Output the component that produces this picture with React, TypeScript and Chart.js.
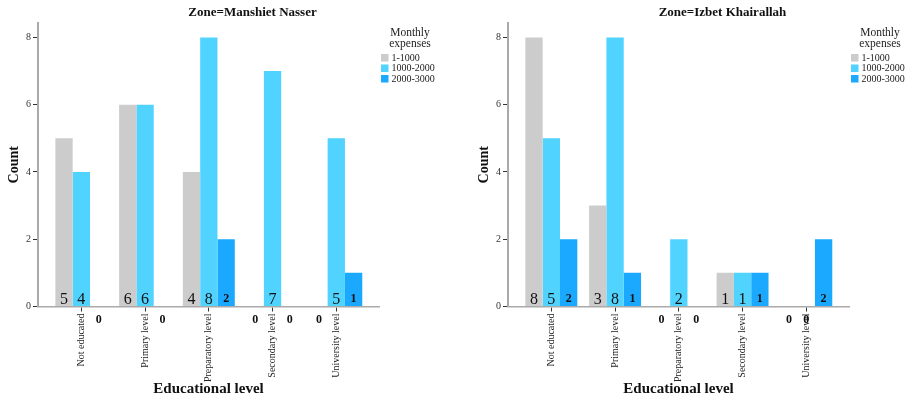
import React, { useEffect, useRef } from "react";
import { Chart, registerables } from "chart.js";

Chart.register(...registerables);

const categories = ["Not educated", "Primary level", "Preparatory level", "Secondary level", "University level"];
const seriesNames = ["1-1000", "1000-2000", "2000-3000"];
const seriesColors = ["#cccccc", "#50d4ff", "#1aa9ff"];

const manshietLow = [5, 6, 4, 0, 0];
const manshietMid = [4, 6, 8, 7, 5];
const manshietHigh = [0, 0, 2, 0, 1];

const izbetLow = [8, 3, 0, 1, 0];
const izbetMid = [5, 8, 2, 1, 0];
const izbetHigh = [2, 1, 0, 1, 2];

const yTicks = [0, 2, 4, 6, 8];

const FAMILY = "'Liberation Serif', 'Times New Roman', serif";

const overlayPlugin = {
  id: "overlay",
  afterDatasetsDraw(chart: any, _args: any, opts: any) {
    const ctx = chart.ctx;
    const area = chart.chartArea;
    const y0 = chart.scales.y.getPixelForValue(0);
    ctx.save();
    ctx.fillStyle = "#111";
    ctx.textAlign = "center";
    ctx.textBaseline = "alphabetic";
    chart.data.datasets.forEach((ds: any, di: number) => {
      const meta = chart.getDatasetMeta(di);
      meta.data.forEach((el: any, i: number) => {
        const v = ds.data[i].y;
        if (v > 0) {
          if (di === 2) {
            ctx.font = `bold 12px ${FAMILY}`;
            ctx.fillText(String(v), el.x, y0 - 5);
          } else {
            ctx.font = `16px ${FAMILY}`;
            ctx.fillText(String(v), el.x, y0 - 3);
          }
        } else {
          ctx.font = `bold 12px ${FAMILY}`;
          ctx.fillText("0", el.x, y0 + 16.5);
        }
      });
    });

    // Title
    ctx.font = `bold 13px ${FAMILY}`;
    ctx.textBaseline = "middle";
    ctx.fillStyle = "#111";
    ctx.fillText(opts.title, (area.left + area.right) / 2 + 44, 13);

    // Legend
    const lx = area.right;
    ctx.font = `11.5px ${FAMILY}`;
    ctx.fillStyle = "#222";
    ctx.textAlign = "center";
    ctx.fillText("Monthly", lx + 31, 33);
    ctx.fillText("expenses", lx + 31, 44);
    ctx.textAlign = "left";
    ctx.font = `10px ${FAMILY}`;
    const rows = [58, 68.5, 79];
    seriesNames.forEach((name, i) => {
      ctx.fillStyle = seriesColors[i];
      ctx.fillRect(lx + 2, rows[i] - 4, 7.5, 7.5);
      ctx.fillStyle = "#222";
      ctx.fillText(name, lx + 12.5, rows[i]);
    });
    ctx.restore();
  },
};

function ZoneChart(props: { title: string; low: number[]; mid: number[]; high: number[]; left: number }) {
  const ref = useRef<HTMLCanvasElement | null>(null);
  useEffect(() => {
    const series = [props.low, props.mid, props.high];
    const chart = new Chart(ref.current as HTMLCanvasElement, {
      type: "bar",
      data: {
        datasets: series.map((vals, si) => ({
          label: seriesNames[si],
          data: vals.map((v, i) => ({ x: i, y: v })),
          backgroundColor: seriesColors[si],
          borderWidth: 0,
          categoryPercentage: 0.815,
          barPercentage: 1,
        })),
      },
      options: {
        animation: false,
        responsive: false,
        devicePixelRatio: 1,
        layout: { padding: { left: 0, right: 91, top: 23, bottom: 0 } },
        plugins: {
          legend: { display: false },
          title: { display: false },
          tooltip: { enabled: false },
          overlay: { title: props.title },
        } as any,
        scales: {
          x: {
            type: "linear",
            offset: false,
            min: -0.68,
            max: 4.67,
            afterBuildTicks: (s: any) => {
              s.ticks = categories.map((_, i) => ({ value: i }));
            },
            afterFit: (s: any) => {
              s.height = 92.5;
            },
            ticks: {
              autoSkip: false,
              maxRotation: 90,
              minRotation: 90,
              padding: 2,
              font: { family: FAMILY, size: 10 },
              color: "#222",
              callback: (v: any) => categories[Math.round(Number(v))],
            },
            grid: { display: true, offset: false, drawOnChartArea: false, drawTicks: true, tickLength: 5, color: "#333" },
            border: { display: true, color: "#aaa", width: 1.5 },
            title: {
              display: true,
              text: "Educational level",
              font: { family: FAMILY, size: 15, weight: "bold" },
              color: "#111",
              padding: { top: 4, bottom: 1 },
            },
          },
          y: {
            min: 0,
            max: 8.43,
            afterBuildTicks: (s: any) => {
              s.ticks = yTicks.map((v) => ({ value: v }));
            },
            afterFit: (s: any) => {
              s.width = 38;
            },
            ticks: { padding: 2, font: { family: FAMILY, size: 10 }, color: "#333" },
            grid: { display: true, drawOnChartArea: false, drawTicks: true, tickLength: 5, color: "#333" },
            border: { display: true, color: "#aaa", width: 2 },
            title: {
              display: true,
              text: "Count",
              font: { family: FAMILY, size: 14, weight: "bold" },
              color: "#111",
              padding: { top: 6, bottom: 4 },
            },
          },
        } as any,
      },
      plugins: [overlayPlugin],
    } as any);
    return () => chart.destroy();
  }, []);
  return (
    <canvas
      ref={ref}
      width={470}
      height={399}
      style={{ position: "absolute", left: props.left, top: 0, width: 470, height: 399, display: "block" }}
    />
  );
}

export default function App() {
  return (
    <div
      style={{
        position: "absolute",
        left: 0,
        top: 0,
        width: 909,
        height: 399,
        overflow: "hidden",
        background: "#ffffff",
      }}
    >
      <ZoneChart title="Zone=Manshiet Nasser" low={manshietLow} mid={manshietMid} high={manshietHigh} left={0} />
      <ZoneChart title="Zone=Izbet Khairallah" low={izbetLow} mid={izbetMid} high={izbetHigh} left={470} />
    </div>
  );
}
